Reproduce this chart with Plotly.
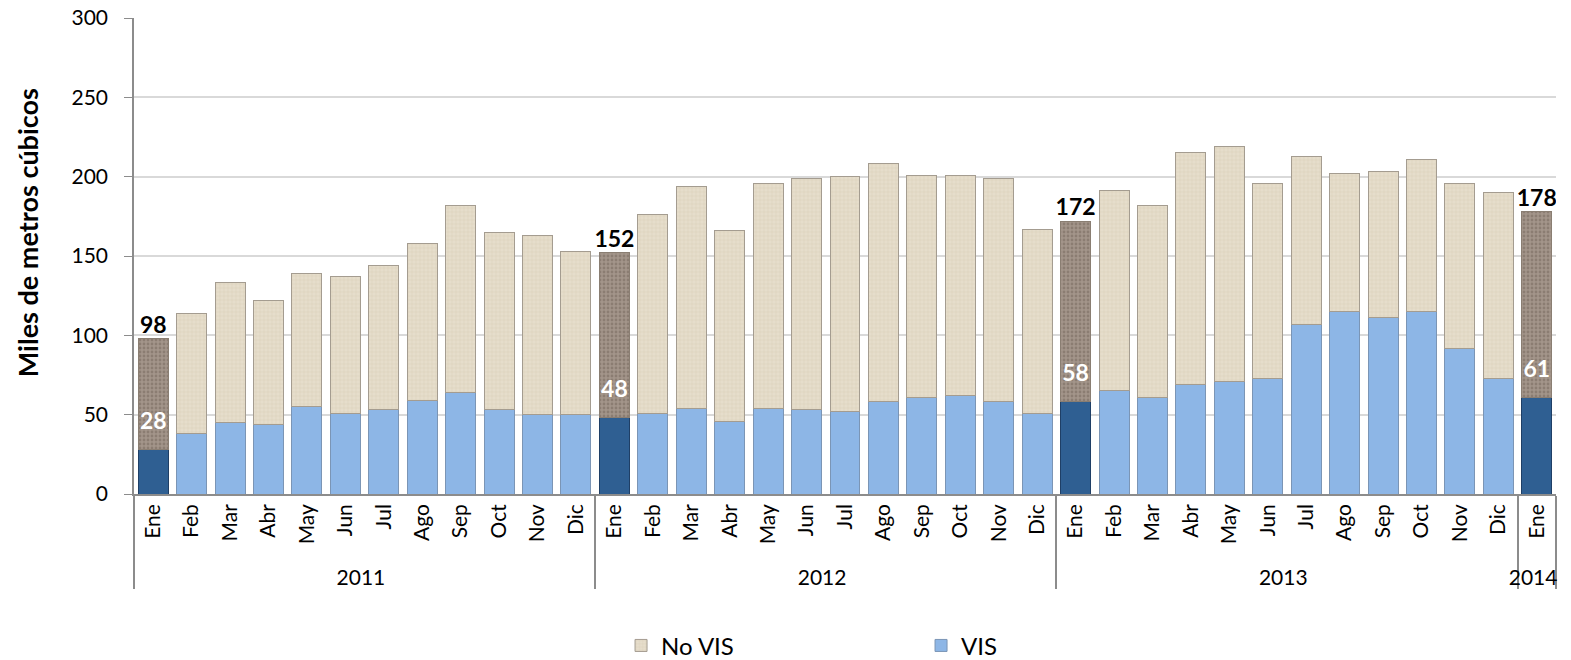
import plotly.graph_objects as go

years = ["2011"] * 12 + ["2012"] * 12 + ["2013"] * 12 + ["2014"]
months = ["Ene", "Feb", "Mar", "Abr", "May", "Jun", "Jul", "Ago", "Sep", "Oct", "Nov", "Dic"] * 3 + ["Ene"]

vis = [28, 38, 45, 44, 55, 51, 53, 59, 64, 53, 50, 50,
       48, 51, 54, 46, 54, 53, 52, 58, 61, 62, 58, 51,
       58, 65, 61, 69, 71, 73, 107, 115, 111, 115, 92, 73,
       61]
no_vis = [70, 76, 88, 78, 84, 86, 91, 99, 118, 112, 113, 103,
          104, 125, 140, 120, 142, 146, 148, 150, 140, 139, 141, 116,
          114, 126, 121, 146, 148, 123, 106, 87, 92, 96, 104, 117,
          117]
total = [a + b for a, b in zip(vis, no_vis)]
highlight = [m == "Ene" for m in months]
total_labels = [str(t) if h else "" for t, h in zip(total, highlight)]
vis_labels = [str(v) if h else "" for v, h in zip(vis, highlight)]

FONT = "Lato, 'Open Sans', sans-serif"
x = [years, months]


def pick(vals, jan):
    return [v if h == jan else None for v, h in zip(vals, highlight)]


fig = go.Figure()
fig.add_trace(go.Bar(
    x=x, y=pick(vis, False), name="VIS",
    marker=dict(color="#8db6e6", line=dict(color="#7b95b5", width=1)),
    hoverinfo="skip",
))
fig.add_trace(go.Bar(
    x=x, y=pick(vis, True), name="VIS ene", showlegend=False,
    marker=dict(color="#2f5f92", line=dict(color="#1f3f66", width=1)),
    hoverinfo="skip",
))
fig.add_trace(go.Bar(
    x=x, y=pick(no_vis, False), name="No VIS",
    marker=dict(color="#e6ddcb",
                pattern=dict(shape="+", fgcolor="#d3c7ae", bgcolor="#e6ddcb", size=4, solidity=0.3),
                line=dict(color="#a49c90", width=1)),
    hoverinfo="skip",
))
fig.add_trace(go.Bar(
    x=x, y=pick(no_vis, True), name="No VIS ene", showlegend=False,
    marker=dict(color="#a39483",
                pattern=dict(shape=".", fgcolor="#74665a", bgcolor="#a3958a", size=4, solidity=0.4),
                line=dict(color="#8a7e72", width=1)),
    hoverinfo="skip",
))
fig.add_trace(go.Scatter(
    x=x, y=total, mode="text", text=total_labels, textposition="top center",
    texttemplate="<b>%{text}</b>", textfont=dict(family=FONT, size=23, color="#000000"),
    showlegend=False, hoverinfo="skip",
))
fig.add_trace(go.Scatter(
    x=x, y=vis, mode="markers+text", text=vis_labels, textposition="top center",
    marker=dict(size=22, color="rgba(0,0,0,0)"),
    texttemplate="<b>%{text}</b>", textfont=dict(family=FONT, size=23, color="#ffffff"),
    showlegend=False, hoverinfo="skip",
))

fig.update_layout(
    width=1571, height=660,
    barmode="stack", bargap=0.22,
    plot_bgcolor="white", paper_bgcolor="white",
    margin=dict(l=134, r=15, t=18, b=166, autoexpand=False),
    font=dict(family=FONT, size=21, color="#000000"),
    legend=dict(orientation="h", x=0.3425, xanchor="left", y=-0.319, yanchor="middle",
                traceorder="reversed", entrywidth=255, entrywidthmode="pixels",
                font=dict(size=24)),
    xaxis=dict(type="multicategory", tickangle=-90, showline=True, linecolor="#8c8c8c",
               linewidth=1.5, showdividers=True, dividercolor="#8c8c8c", dividerwidth=1.5,
               ticks="outside", ticklen=8, tickcolor="rgba(0,0,0,0)",
               tickfont=dict(size=21), showgrid=False, automargin=False, range=[-0.5, 36.5]),
    yaxis=dict(range=[0, 300], dtick=50, showgrid=True, gridcolor="#d9d9d9", gridwidth=1.5,
               showline=True, linecolor="#8c8c8c", linewidth=1.5, ticks="outside", ticklen=8,
               tickcolor="#8c8c8c", tickfont=dict(size=21), zeroline=False, automargin=False,
               ticklabelstandoff=12, ticklabeloverflow="allow"),
    annotations=[dict(text="<b>Miles de metros cúbicos</b>", textangle=-90, xref="paper", yref="paper",
                      x=-0.0752, y=0.548, xanchor="center", yanchor="middle", showarrow=False,
                      font=dict(family=FONT, size=27, color="#000000"))],
)

fig.write_html("out.html", config={"displayModeBar": False},
               post_script="document.body.style.margin='0';")
